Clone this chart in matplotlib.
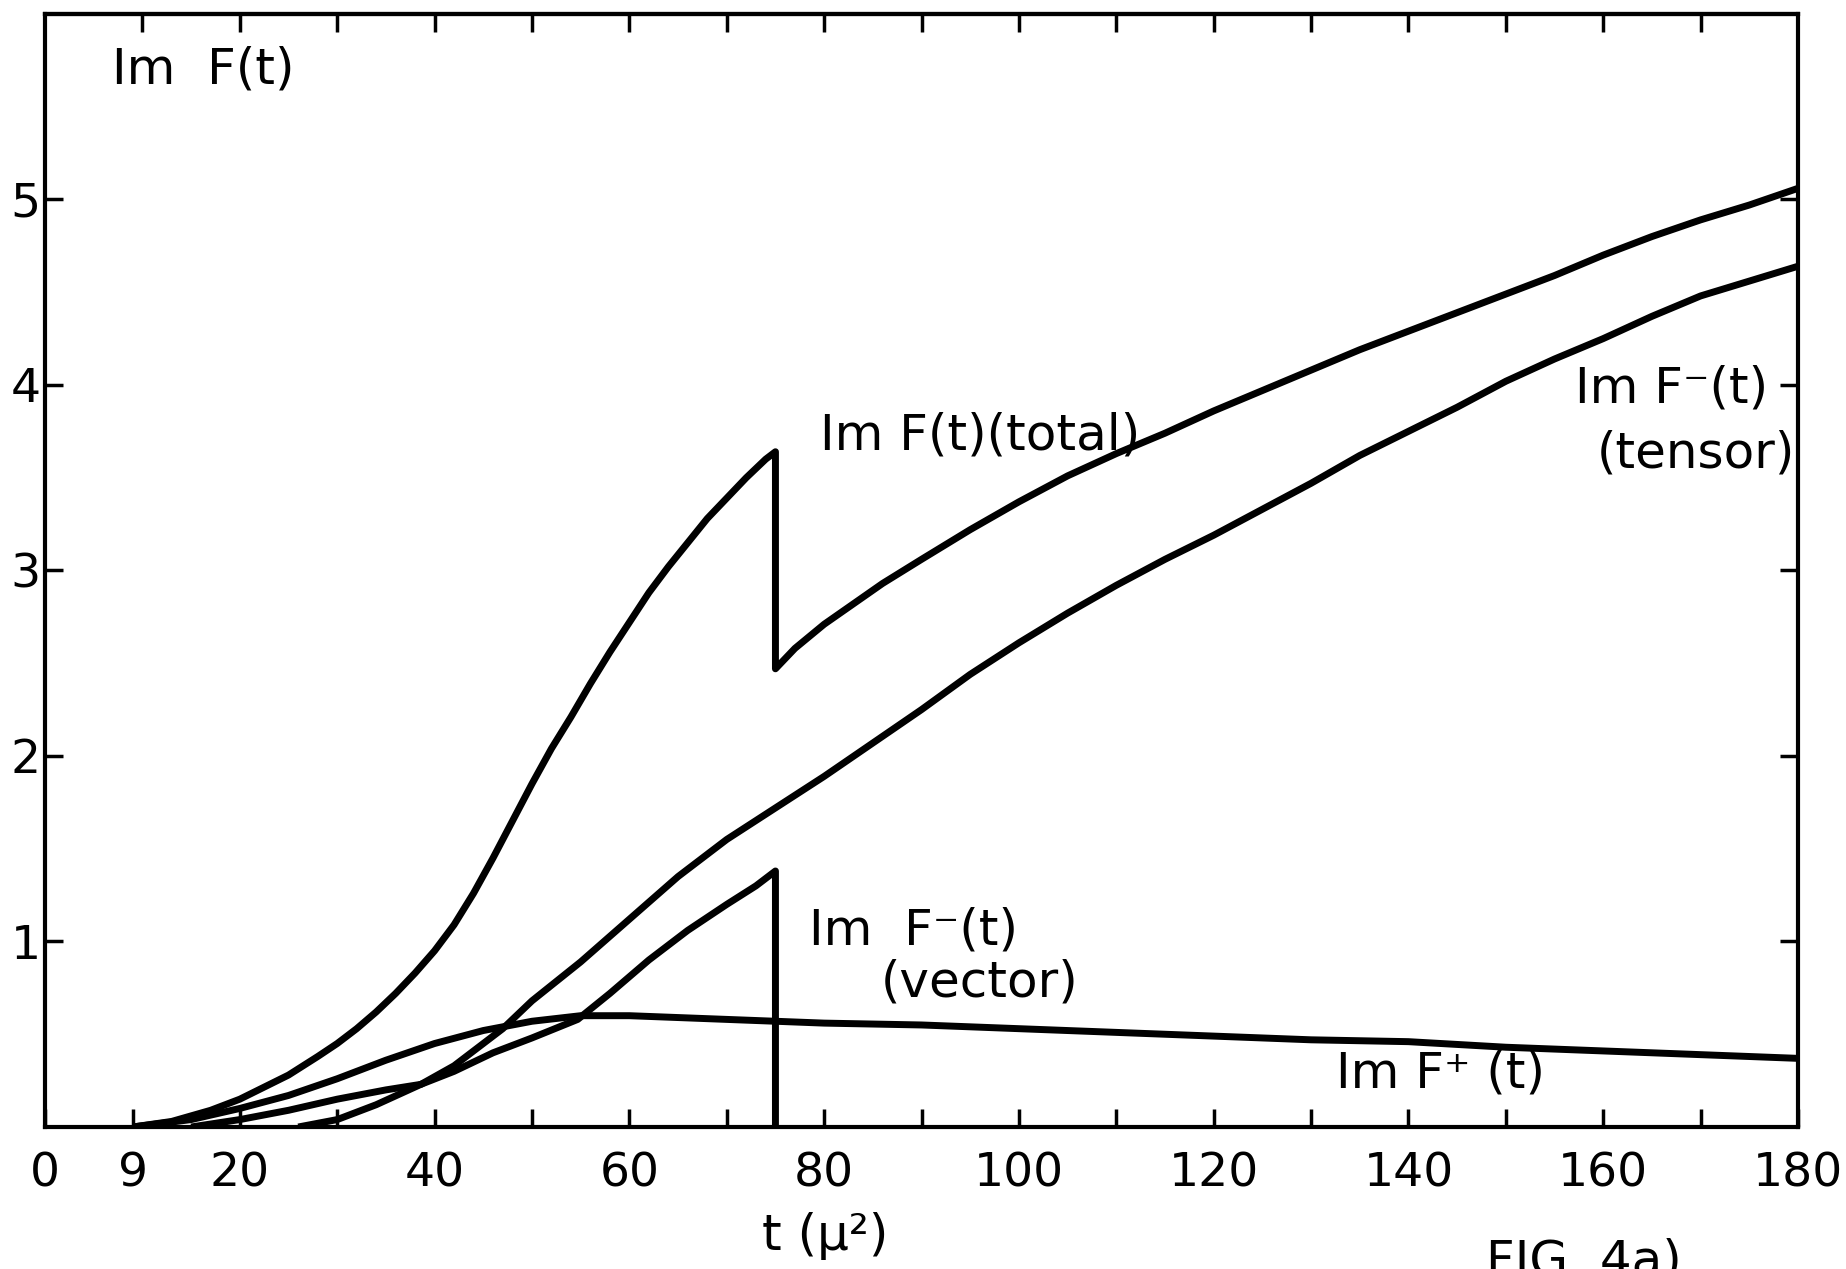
import matplotlib

matplotlib.use("Agg")

import matplotlib.pyplot as plt

# Im F(t) (total): rises to a cusp at t = 75, drops, then rises again
total_t = [9, 13, 17, 20, 25, 28, 30, 32, 34, 36, 38, 40, 42, 44, 46, 48, 50, 52, 54, 56,
           58, 60, 62, 64, 66, 68, 70, 72, 74, 75,
           75, 77, 80, 83, 86, 90, 95, 100, 105, 110, 115, 120, 125, 130, 135, 140, 145,
           150, 155, 160, 165, 170, 175, 180]
total_y = [0, 0.03, 0.09, 0.15, 0.28, 0.38, 0.45, 0.53, 0.62, 0.72, 0.83, 0.95, 1.09,
           1.26, 1.45, 1.65, 1.85, 2.04, 2.21, 2.39, 2.56, 2.72, 2.88, 3.02, 3.15, 3.28,
           3.39, 3.5, 3.6, 3.64,
           2.47, 2.58, 2.71, 2.82, 2.93, 3.06, 3.22, 3.37, 3.51, 3.63, 3.74, 3.86, 3.97,
           4.08, 4.19, 4.29, 4.39, 4.49, 4.59, 4.7, 4.8, 4.89, 4.97, 5.06]

# Im F-(t) (tensor)
tensor_t = [26, 30, 34, 38.6, 42, 47, 50, 55, 60, 65, 70, 75, 80, 85, 90, 95, 100, 105,
            110, 115, 120, 125, 130, 135, 140, 145, 150, 155, 160, 165, 170, 175, 180]
tensor_y = [0, 0.04, 0.12, 0.23, 0.33, 0.53, 0.68, 0.89, 1.12, 1.35, 1.55, 1.72, 1.89,
            2.07, 2.25, 2.44, 2.61, 2.77, 2.92, 3.06, 3.19, 3.33, 3.47, 3.62, 3.75, 3.88,
            4.02, 4.14, 4.25, 4.37, 4.48, 4.56, 4.64]

# Im F-(t) (vector): ends with a vertical drop at t = 75
vector_t = [15, 20, 25, 30, 35, 38.6, 42, 46, 50, 54.7, 58, 62, 66, 70, 73, 75, 75]
vector_y = [0, 0.04, 0.09, 0.15, 0.2, 0.23, 0.3, 0.4, 0.48, 0.58, 0.72, 0.9, 1.06, 1.2,
            1.3, 1.38, 0]

# Im F+(t)
plus_t = [9, 15, 20, 25, 30, 35, 40, 45, 50, 55, 60, 65, 70, 75, 80, 90, 100, 110, 120,
          130, 140, 150, 160, 170, 180]
plus_y = [0, 0.04, 0.1, 0.17, 0.26, 0.36, 0.45, 0.52, 0.57, 0.6, 0.6, 0.59, 0.58, 0.57,
          0.56, 0.55, 0.53, 0.51, 0.49, 0.47, 0.46, 0.43, 0.41, 0.39, 0.37]

x_label_ticks = [0, 9, 20, 40, 60, 80, 100, 120, 140, 160, 180]
x_minor_ticks = [30, 50, 70, 90, 110, 130, 150, 170]
x_top_ticks = list(range(10, 180, 10))
y_ticks = [1, 2, 3, 4, 5]

plt.rcParams["font.family"] = ["DejaVu Sans"]

fig = plt.figure(figsize=(18.46, 12.69), dpi=100)
ax = fig.add_axes([0.0244, 0.1119, 0.9496, 0.8771])

lw = 5.0
for t, y in [(total_t, total_y), (tensor_t, tensor_y), (vector_t, vector_y), (plus_t, plus_y)]:
    ax.plot(t, y, color="black", lw=lw, solid_joinstyle="round", solid_capstyle="butt")

ax.set_xlim(0, 180)
ax.set_ylim(0, 6)

for side in ["left", "right", "top", "bottom"]:
    ax.spines[side].set_linewidth(3)

ax.set_xticks(x_label_ticks)
ax.set_xticklabels([str(v) for v in x_label_ticks], fontsize=34)
ax.set_xticks(x_minor_ticks, minor=True)
ax.set_yticks(y_ticks)
ax.set_yticklabels([str(v) for v in y_ticks], fontsize=34)
ax.tick_params(axis="both", which="both", direction="in", length=13, width=2.5,
               right=True, top=False)
ax.tick_params(axis="x", which="both", pad=18)
ax.tick_params(axis="y", pad=3)

top = ax.secondary_xaxis("top")
top.set_xticks(x_top_ticks)
top.set_xticklabels([])
top.tick_params(direction="in", length=13, width=2.5)
top.spines["top"].set_linewidth(3)

txt = dict(fontsize=36, color="black", ha="left", va="center")
ax.text(6.9, 5.7, "Im  F(t)", **txt)
ax.text(79.6, 3.73, "Im F(t)(total)", **txt)
ax.text(157.1, 3.98, "Im F\u207b(t)", **txt)
ax.text(159.3, 3.63, "(tensor)", **txt)
ax.text(78.4, 1.06, "Im  F\u207b(t)", **txt)
ax.text(85.8, 0.78, "(vector)", **txt)
ax.text(132.6, 0.29, "Im F\u207a (t)", **txt)

fig.text(825 / 1846, 1 - 1236 / 1269, "t (\u03bc\u00b2)", ha="center", va="center",
         fontsize=36)
fig.text(1486 / 1846, 1 - 1238 / 1269, "FIG. 4a)", ha="left", va="top", fontsize=36)

fig.savefig("out.png", dpi=100)
